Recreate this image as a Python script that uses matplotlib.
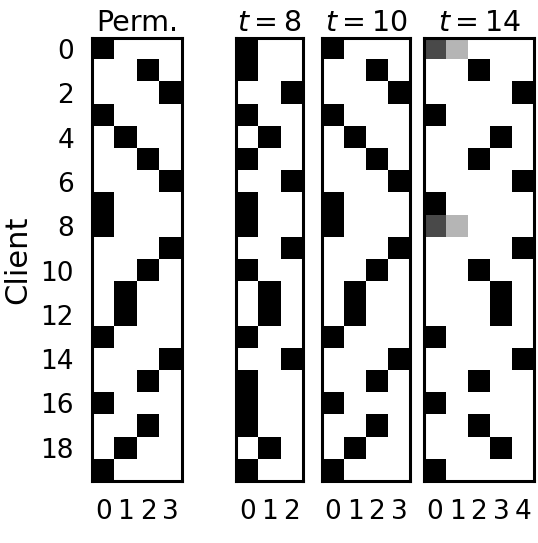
import numpy as np
import matplotlib
matplotlib.use("Agg")
import matplotlib.pyplot as plt

# cluster assignment of each client (column index of the black cell)
perm_assign = [0, 2, 3, 0, 1, 2, 3, 0, 0, 3, 2, 1, 1, 0, 3, 2, 0, 2, 1, 0]
t8_assign = [0, 0, 2, 0, 1, 0, 2, 0, 0, 2, 0, 1, 1, 0, 2, 0, 0, 0, 1, 0]
t10_assign = [0, 2, 3, 0, 1, 2, 3, 0, 0, 3, 2, 1, 1, 0, 3, 2, 0, 2, 1, 0]
t14_assign = [0, 2, 4, 0, 3, 2, 4, 0, 0, 4, 2, 3, 3, 0, 4, 2, 0, 2, 3, 0]
# rows of t=14 that are split between two clusters
t14_soft_rows = [0, 8]
t14_soft_vals = [0.71, 0.29, 0.0, 0.0, 0.0]

n_cols = [4, 3, 4, 5]
titles = ["Perm.", r"$t=8$", r"$t=10$", r"$t=14$"]


def one_hot(assign, k):
    m = np.zeros((len(assign), k))
    for i, a in enumerate(assign):
        m[i, a] = 1.0
    return m


mats = [one_hot(perm_assign, 4), one_hot(t8_assign, 3),
        one_hot(t10_assign, 4), one_hot(t14_assign, 5)]
for r in t14_soft_rows:
    mats[3][r] = t14_soft_vals

W, H = 538, 543
fig = plt.figure(figsize=(W / 100, H / 100), dpi=100)

# axes boxes in pixels: left, width
boxes = [(92, 90), (236, 67), (322, 88), (424, 110)]
top, bottom = 38, 481

for i, (mat, (x0, w)) in enumerate(zip(mats, boxes)):
    ax = fig.add_axes([x0 / W, (H - bottom) / H, w / W, (bottom - top) / H])
    ax.imshow(mat, cmap="gray_r", vmin=0, vmax=1, aspect="auto",
              interpolation="nearest")
    ax.set_title(titles[i], fontsize=20.5, pad=5)
    ax.set_xticks(range(n_cols[i]))
    ax.set_xticklabels([str(c) for c in range(n_cols[i])], fontsize=19)
    ax.tick_params(axis="x", length=0, pad=13)
    ax.tick_params(axis="y", length=0, pad=13)
    if i == 0:
        ax.set_yticks(range(0, 20, 2))
        ax.set_yticklabels([str(v) for v in range(0, 20, 2)], fontsize=19)
        ax.set_ylabel("Client", fontsize=22, labelpad=6)
    else:
        ax.set_yticks([])
    for s in ax.spines.values():
        s.set_linewidth(2.2)
        s.set_color("black")

fig.savefig("out.png", dpi=100)
